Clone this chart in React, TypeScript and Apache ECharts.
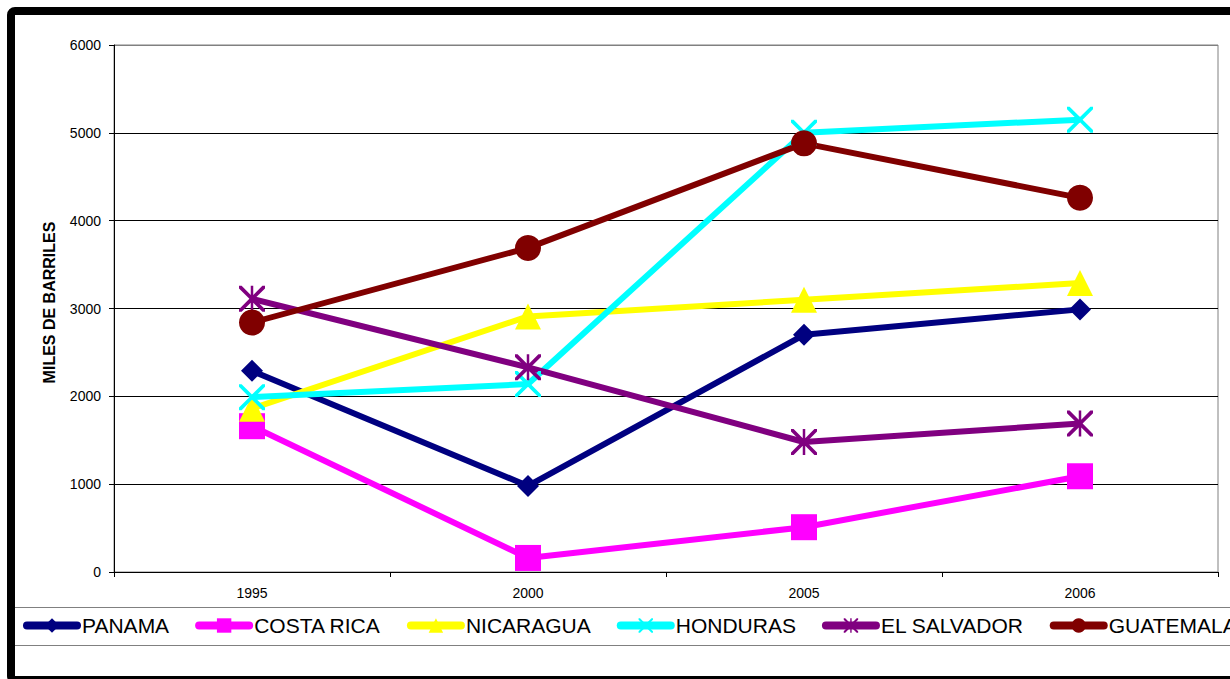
import React, { useEffect, useRef } from "react";
import * as echarts from "echarts";

const years = ["1995", "2000", "2005", "2006"];
const panama = [2290, 980, 2700, 2990];
const costaRica = [1660, 160, 510, 1090];
const nicaragua = [1860, 2910, 3100, 3290];
const honduras = [1990, 2140, 5000, 5150];
const elSalvador = [3110, 2330, 1480, 1690];
const guatemala = [2840, 3690, 4880, 4260];
const yTicks = { min: 0, max: 6000, interval: 1000 };

const FONT = "'Liberation Sans', Arial, sans-serif";

const X_PATH =
  "path://M0,0 L2.5,0 L12.5,10 L22.5,0 L25,0 L25,2.5 L15,12.5 L25,22.5 L25,25 L22.5,25 L12.5,15 L2.5,25 L0,25 L0,22.5 L10,12.5 L0,2.5 Z";
const STAR_PATH =
  "path://M0,0 L2.5,0 L12.5,10 L22.5,0 L25,0 L25,2.5 L15,12.5 L25,22.5 L25,25 L22.5,25 L12.5,15 L2.5,25 L0,25 L0,22.5 L10,12.5 L0,2.5 Z M11.3,0 L13.7,0 L13.7,25 L11.3,25 Z";

export default function App() {
  const ref = useRef<HTMLDivElement>(null);
  useEffect(() => {
    if (!ref.current) return;
    const chart = echarts.init(ref.current, null, { renderer: "svg" });
    const mk = (name: string, data: number[], color: string, symbol: string, size: number) => ({
      name,
      type: "line",
      data,
      symbol,
      symbolSize: size,
      showAllSymbol: true,
      lineStyle: { color, width: 6 },
      itemStyle: { color, borderWidth: 0 },
      emphasis: { disabled: true },
    });
    chart.setOption({
      animation: false,
      backgroundColor: "#ffffff",
      textStyle: { fontFamily: FONT },
      grid: {
        left: 114,
        top: 45,
        right: 12,
        bottom: 107,
        show: true,
        borderColor: "#808080",
        borderWidth: 1,
        containLabel: false,
      },
      xAxis: {
        type: "category",
        data: years,
        boundaryGap: true,
        axisLine: { lineStyle: { color: "#000", width: 1 } },
        axisTick: { show: true, length: 5, lineStyle: { color: "#000" } },
        axisLabel: { color: "#000", fontSize: 14, fontFamily: FONT, margin: 14 },
      },
      yAxis: {
        type: "value",
        min: yTicks.min,
        max: yTicks.max,
        interval: yTicks.interval,
        name: "MILES DE BARRILES",
        nameLocation: "middle",
        nameGap: 57,
        nameTextStyle: {
          color: "#000",
          fontSize: 16,
          fontWeight: "bold",
          fontFamily: FONT,
          padding: [0, 0, 0, 12],
        },
        axisLine: { show: true, lineStyle: { color: "#000", width: 1 } },
        axisTick: { show: true, length: 5, lineStyle: { color: "#000" } },
        axisLabel: {
          color: "#000",
          fontSize: 14,
          fontFamily: FONT,
          margin: 13,
          formatter: (v: number) => String(v),
        },
        splitLine: {
          show: true,
          lineStyle: { color: ["#000", "#000", "#000", "#000", "#000", "#000", "#808080"], width: 1 },
        },
      },
      legend: {
        type: "plain",
        orient: "horizontal",
        left: 18,
        top: 610,
        width: 1600,
        itemWidth: 50,
        itemHeight: 18,
        itemGap: 26,
        textStyle: { color: "#000", fontSize: 21, fontFamily: FONT },
        lineStyle: { width: 8, cap: "round" },
        selectedMode: false,
      },
      graphic: [
        {
          type: "rect",
          shape: { x: 11, y: 11, width: 1300, height: 669, r: 4 },
          style: { fill: "none", stroke: "#000", lineWidth: 8 },
          silent: true,
        },
        {
          type: "line",
          shape: { x1: 15, y1: 607.5, x2: 1230, y2: 607.5 },
          style: { stroke: "#808080", lineWidth: 1 },
          silent: true,
        },
        {
          type: "line",
          shape: { x1: 15, y1: 645.5, x2: 1230, y2: 645.5 },
          style: { stroke: "#808080", lineWidth: 1 },
          silent: true,
        },
      ],
      series: [
        mk("PANAMA", panama, "#000080", "diamond", 22),
        mk("COSTA RICA", costaRica, "#FF00FF", "rect", 26),
        mk("NICARAGUA", nicaragua, "#FFFF00", "triangle", 26),
        mk("HONDURAS", honduras, "#00FFFF", X_PATH, 26),
        mk("EL SALVADOR", elSalvador, "#800080", STAR_PATH, 26),
        mk("GUATEMALA", guatemala, "#800000", "circle", 26),
      ],
    });
    return () => chart.dispose();
  }, []);
  return <div ref={ref} style={{ width: 1230, height: 679, position: "absolute", left: 0, top: 0 }} />;
}
